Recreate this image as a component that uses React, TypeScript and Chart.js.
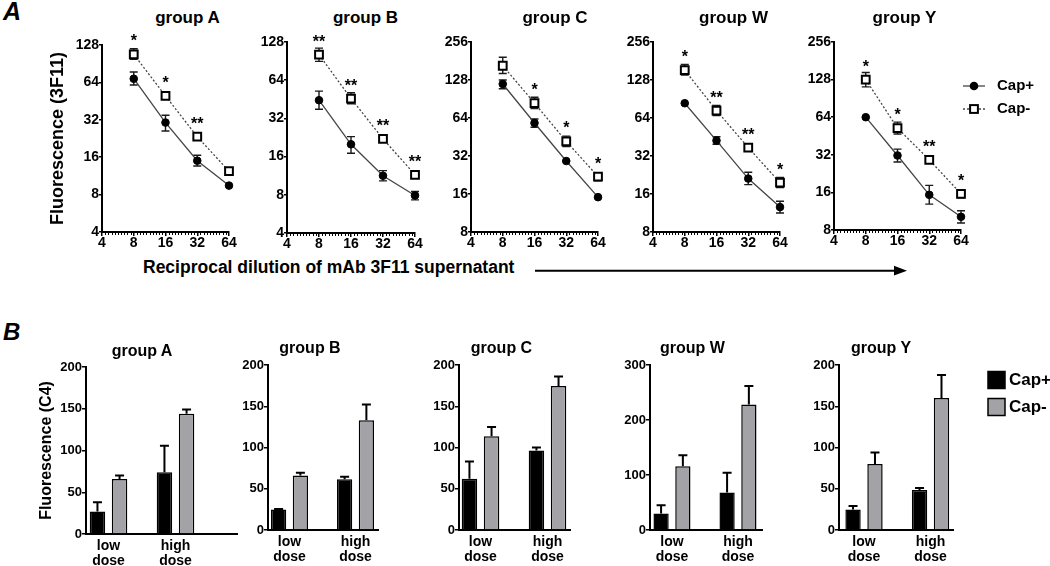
import React, { useEffect, useRef } from 'react';
import { Chart, registerables } from 'chart.js';

Chart.register(...registerables);

const FONT = '"Liberation Sans", Arial, Helvetica, sans-serif';
Chart.defaults.font.family = FONT;
Chart.defaults.color = '#000';

// ---------------- Panel A: 3F11 titration (log2 axes) ----------------
const dilutions = [8, 16, 32, 64];
const xTickValues = [4, 8, 16, 32, 64];
const yTickValuesAB = [4, 8, 16, 32, 64, 128];
const yTickValuesCWY = [8, 16, 32, 64, 128, 256];
const groupNames = ['group A', 'group B', 'group C', 'group W', 'group Y'];
const seriesNames = ['Cap+', 'Cap-'];

const capPlusMeanA = [68.5, 30.4, 15.0, 9.45];
const capPlusHiA = [77.5, 34.8, 16.6, null];
const capPlusLoA = [61, 26, 13.6, null];
const capMinusMeanA = [107.7, 49.8, 23.4, 12.35];
const capMinusHiA = [119.5, null, null, null];
const capMinusLoA = [98, null, null, null];
const sigA = ['*', '*', '**', ''];

const capPlusMeanB = [44.5, 20, 11.3, 7.9];
const capPlusHiB = [52.5, 23, 12.4, 8.5];
const capPlusLoB = [37.8, 17, 10.3, 7.3];
const capMinusMeanB = [101.7, 45.9, 22.1, 11.5];
const capMinusHiB = [114.5, 51, null, null];
const capMinusLoB = [90, 41.7, null, null];
const sigB = ['**', '**', '**', '**'];

const capPlusMeanC = [119, 58.4, 29.2, 15.1];
const capPlusHiC = [128, 62.9, null, null];
const capPlusLoC = [109, 54, null, null];
const capMinusMeanC = [166, 84, 41.8, 22];
const capMinusHiC = [194, 93.5, 46, 23.6];
const capMinusLoC = [144, 76, 38, 20.4];
const sigC = ['', '*', '*', '*'];

const capPlusMeanW = [83.8, 42.4, 21.2, 12.6];
const capPlusHiW = [null, 45.5, 23.8, 14];
const capPlusLoW = [null, 39.6, 19, 11.3];
const capMinusMeanW = [153, 73.3, 37.3, 19.7];
const capMinusHiW = [170, 80.5, 39.5, 21.6];
const capMinusLoW = [140, 67, 35, 18];
const sigW = ['*', '**', '**', '*'];

const capPlusMeanY = [64, 31.6, 15.3, 10.2];
const capPlusHiY = [null, 35.5, 18.2, 11.4];
const capPlusLoY = [null, 28, 12.9, 9.1];
const capMinusMeanY = [128, 52.3, 29.2, 15.6];
const capMinusHiY = [146, 58.4, null, 16.8];
const capMinusLoY = [112, 47, null, 14.5];
const sigY = ['*', '*', '**', '*'];

const topCapPlusMean = [capPlusMeanA, capPlusMeanB, capPlusMeanC, capPlusMeanW, capPlusMeanY];
const topCapPlusHi = [capPlusHiA, capPlusHiB, capPlusHiC, capPlusHiW, capPlusHiY];
const topCapPlusLo = [capPlusLoA, capPlusLoB, capPlusLoC, capPlusLoW, capPlusLoY];
const topCapMinusMean = [capMinusMeanA, capMinusMeanB, capMinusMeanC, capMinusMeanW, capMinusMeanY];
const topCapMinusHi = [capMinusHiA, capMinusHiB, capMinusHiC, capMinusHiW, capMinusHiY];
const topCapMinusLo = [capMinusLoA, capMinusLoB, capMinusLoC, capMinusLoW, capMinusLoY];
const topSig = [sigA, sigB, sigC, sigW, sigY];

// ---------------- Panel B: C4 fluorescence (bars, mean + SEM) ----------------
const doseCategories = ['low dose', 'high dose'];
const c4CapPlusA = [27, 74];
const c4CapPlusErrA = [11, 31.6];
const c4CapMinusA = [66, 144];
const c4CapMinusErrA = [4, 5];
const c4CapPlusB = [25, 61.4];
const c4CapPlusErrB = [0.5, 3.2];
const c4CapMinusB = [66, 133];
const c4CapMinusErrB = [3.5, 19];
const c4CapPlusC = [62, 96.5];
const c4CapPlusErrC = [21, 3.5];
const c4CapMinusC = [113.5, 174.5];
const c4CapMinusErrC = [11.5, 11.5];
const c4CapPlusW = [30, 68];
const c4CapPlusErrW = [15, 36];
const c4CapMinusW = [116, 228];
const c4CapMinusErrW = [20, 34];
const c4CapPlusY = [25, 48.5];
const c4CapPlusErrY = [4, 2.5];
const c4CapMinusY = [80, 160];
const c4CapMinusErrY = [14, 28];
const c4AxisMax = [200, 200, 200, 300, 200];
const c4AxisStep = [50, 50, 50, 100, 50];

const botCapPlus = [c4CapPlusA, c4CapPlusB, c4CapPlusC, c4CapPlusW, c4CapPlusY];
const botCapPlusErr = [c4CapPlusErrA, c4CapPlusErrB, c4CapPlusErrC, c4CapPlusErrW, c4CapPlusErrY];
const botCapMinus = [c4CapMinusA, c4CapMinusB, c4CapMinusC, c4CapMinusW, c4CapMinusY];
const botCapMinusErr = [c4CapMinusErrA, c4CapMinusErrB, c4CapMinusErrC, c4CapMinusErrW, c4CapMinusErrY];

// ---------------- layout (page pixels) ----------------
const TOP_LAYOUT = [
  { L: 102, R: 229, T: 45, B: 232, titleX: 187.5 },
  { L: 287, R: 415, T: 42, B: 233, titleX: 365.5 },
  { L: 471, R: 598, T: 42, B: 232, titleX: 555 },
  { L: 653, R: 780, T: 42, B: 232, titleX: 733.5 },
  { L: 834, R: 961, T: 42, B: 230, titleX: 904.5 },
];
const BOT_LAYOUT = [
  { L: 86, R: 237, T: 367, B: 534, titleX: 142, titleBase: 356.5, xMin: 0.664, xMax: 2.918 },
  { L: 268, R: 378, T: 365, B: 530, titleX: 310, titleBase: 353.5, xMin: 0.674, xMax: 2.341 },
  { L: 459, R: 570, T: 365, B: 530, titleX: 501.5, titleBase: 353.5, xMin: 0.679, xMax: 2.336 },
  { L: 650, R: 762, T: 365, B: 530, titleX: 692.5, titleBase: 353.5, xMin: 0.667, xMax: 2.364 },
  { L: 839, R: 953, T: 365, B: 530, titleX: 881, titleBase: 353.5, xMin: 0.624, xMax: 2.338 },
];
const MINOR_PER_OCTAVE = 10;
const GRAY = '#a2a2a7';
const LINE_GRAY = '#454545';

// ---------------- plugins ----------------
const lineErrorBars = {
  id: 'lineErrorBars',
  beforeDatasetsDraw(chart: any) {
    const { ctx } = chart;
    const ys = chart.scales.y;
    chart.data.datasets.forEach((ds: any, di: number) => {
      const meta = chart.getDatasetMeta(di);
      ctx.save();
      ctx.strokeStyle = '#1a1a1a';
      ctx.lineWidth = 1.4;
      meta.data.forEach((pt: any, k: number) => {
        const hi = ds.errHi[k];
        const lo = ds.errLo[k];
        if (hi == null || lo == null) return;
        const yHi = ys.getPixelForValue(hi);
        const yLo = ys.getPixelForValue(lo);
        ctx.beginPath();
        ctx.moveTo(pt.x, yHi);
        ctx.lineTo(pt.x, yLo);
        ctx.moveTo(pt.x - 4, yHi);
        ctx.lineTo(pt.x + 4, yHi);
        ctx.moveTo(pt.x - 4, yLo);
        ctx.lineTo(pt.x + 4, yLo);
        ctx.stroke();
      });
      ctx.restore();
    });
  },
};

const minorTicks = {
  id: 'minorTicks',
  afterDraw(chart: any) {
    const { ctx } = chart;
    const xs = chart.scales.x;
    const y0 = chart.chartArea.bottom;
    const lo = Math.log2(xs.min);
    const hi = Math.log2(xs.max);
    ctx.save();
    ctx.strokeStyle = '#000';
    ctx.lineWidth = 1;
    ctx.beginPath();
    for (let e = lo; e < hi; e++) {
      for (let k = 1; k < MINOR_PER_OCTAVE; k++) {
        const x = Math.round(xs.getPixelForValue(Math.pow(2, e + k / MINOR_PER_OCTAVE))) + 0.5;
        ctx.moveTo(x, y0);
        ctx.lineTo(x, y0 + 3);
      }
    }
    ctx.stroke();
    ctx.restore();
  },
};

const sigMarks = {
  id: 'sigMarks',
  afterDatasetsDraw(chart: any) {
    const { ctx } = chart;
    const ds = chart.data.datasets[1];
    const meta = chart.getDatasetMeta(1);
    ctx.save();
    ctx.font = `bold 16px ${FONT}`;
    ctx.textAlign = 'center';
    ctx.textBaseline = 'alphabetic';
    ctx.fillStyle = '#000';
    meta.data.forEach((pt: any, k: number) => {
      const s = ds.sig[k];
      if (s) ctx.fillText(s, pt.x, pt.y - 8);
    });
    ctx.restore();
  },
};

const lineLegend = {
  id: 'lineLegend',
  afterDraw(chart: any, _args: any, o: any) {
    const { ctx } = chart;
    const ds = chart.data.datasets;
    ctx.save();
    o.rows.forEach((y: number, i: number) => {
      ctx.beginPath();
      ctx.strokeStyle = LINE_GRAY;
      ctx.lineWidth = 1.3;
      ctx.setLineDash(i === 1 ? [2, 2] : []);
      ctx.moveTo(o.x0, y);
      ctx.lineTo(o.x1, y);
      ctx.stroke();
      ctx.setLineDash([]);
      const cx = (o.x0 + o.x1) / 2;
      if (i === 0) {
        ctx.beginPath();
        ctx.fillStyle = '#000';
        ctx.arc(cx, y, 4.3, 0, Math.PI * 2);
        ctx.fill();
      } else {
        ctx.fillStyle = '#fff';
        ctx.strokeStyle = '#000';
        ctx.lineWidth = 2;
        ctx.fillRect(cx - 3.9, y - 3.9, 7.8, 7.8);
        ctx.strokeRect(cx - 3.9, y - 3.9, 7.8, 7.8);
      }
      ctx.fillStyle = '#000';
      ctx.font = `bold 15px ${FONT}`;
      ctx.textAlign = 'left';
      ctx.textBaseline = 'middle';
      ctx.fillText(ds[i].label, o.tx, y);
    });
    ctx.restore();
  },
};

const barErrorBars = {
  id: 'barErrorBars',
  afterDatasetsDraw(chart: any) {
    const { ctx } = chart;
    const ys = chart.scales.y;
    chart.data.datasets.forEach((ds: any, di: number) => {
      const meta = chart.getDatasetMeta(di);
      ctx.save();
      ctx.strokeStyle = '#000';
      ctx.lineWidth = 2;
      meta.data.forEach((bar: any, k: number) => {
        const e = ds.err[k];
        if (!e) return;
        const yTop = ys.getPixelForValue(ds.data[k].y + e);
        ctx.beginPath();
        ctx.moveTo(bar.x, bar.y);
        ctx.lineTo(bar.x, yTop);
        ctx.moveTo(bar.x - 4.5, yTop);
        ctx.lineTo(bar.x + 4.5, yTop);
        ctx.stroke();
      });
      ctx.restore();
    });
  },
};

const boxLegend = {
  id: 'boxLegend',
  afterDraw(chart: any, _args: any, o: any) {
    const { ctx } = chart;
    const ds = chart.data.datasets;
    ctx.save();
    o.rows.forEach((y: number, i: number) => {
      ctx.fillStyle = ds[i].backgroundColor;
      ctx.strokeStyle = '#000';
      ctx.lineWidth = 1.5;
      ctx.fillRect(o.x, y - 8.5, 17, 17);
      ctx.strokeRect(o.x, y - 8.5, 17, 17);
      ctx.fillStyle = '#000';
      ctx.font = `bold 17px ${FONT}`;
      ctx.textAlign = 'left';
      ctx.textBaseline = 'middle';
      ctx.fillText(ds[i].label, o.tx, y);
    });
    ctx.restore();
  },
};

// ---------------- configs ----------------
function axisGrid(tickLength: number) {
  return { display: true, drawOnChartArea: false, drawTicks: true, tickLength, color: '#000', lineWidth: 1.5 };
}
const axisBorder = { display: true, color: '#000', width: 2 };

function topConfig(i: number, ox: number, oy: number, yW: number, xH: number, padTop: number, padRight: number) {
  const lay = TOP_LAYOUT[i];
  const yTicks = i < 2 ? yTickValuesAB : yTickValuesCWY;
  const tickFont = { family: FONT, size: 14, weight: 'bold', lineHeight: 1 };
  const plugins: any[] = [lineErrorBars, minorTicks, sigMarks];
  if (i === 4) plugins.push(lineLegend);
  return {
    type: 'line',
    data: {
      datasets: [
        {
          label: seriesNames[0],
          data: dilutions.map((d, k) => ({ x: d, y: topCapPlusMean[i][k] })),
          errHi: topCapPlusHi[i],
          errLo: topCapPlusLo[i],
          borderColor: LINE_GRAY,
          borderWidth: 1.3,
          pointStyle: 'circle',
          pointRadius: 3.8,
          pointBackgroundColor: '#000',
          pointBorderColor: '#000',
          pointBorderWidth: 1,
          clip: false,
        },
        {
          label: seriesNames[1],
          data: dilutions.map((d, k) => ({ x: d, y: topCapMinusMean[i][k] })),
          errHi: topCapMinusHi[i],
          errLo: topCapMinusLo[i],
          sig: topSig[i],
          borderColor: LINE_GRAY,
          borderWidth: 1.3,
          borderDash: [2, 2],
          pointStyle: 'rect',
          pointRadius: 5.5,
          pointBackgroundColor: '#fff',
          pointBorderColor: '#000',
          pointBorderWidth: 2,
          clip: false,
        },
      ],
    },
    options: {
      responsive: false,
      animation: false,
      events: [],
      layout: { padding: { left: 0, top: padTop, right: padRight, bottom: 0 } },
      plugins: {
        legend: { display: false },
        tooltip: { enabled: false },
        lineLegend: { rows: [86 - oy, 109 - oy], x0: 963 - ox, x1: 985 - ox, tx: 997 - ox },
      },
      scales: {
        x: {
          type: 'logarithmic',
          min: xTickValues[0],
          max: xTickValues[xTickValues.length - 1],
          afterBuildTicks: (s: any) => {
            s.ticks = xTickValues.map((v) => ({ value: v }));
          },
          afterFit: (s: any) => {
            s.height = xH;
          },
          ticks: { callback: (v: any) => String(v), font: tickFont, color: '#000', padding: 0, maxRotation: 0, autoSkip: false },
          grid: axisGrid(4),
          border: axisBorder,
        },
        y: {
          type: 'logarithmic',
          min: yTicks[0],
          max: yTicks[yTicks.length - 1],
          afterBuildTicks: (s: any) => {
            s.ticks = yTicks.map((v) => ({ value: v }));
          },
          afterFit: (s: any) => {
            s.width = yW;
          },
          ticks: { callback: (v: any) => String(v), font: tickFont, color: '#000', padding: 0, autoSkip: false },
          grid: axisGrid(3),
          border: axisBorder,
          title: {
            display: i === 0,
            text: 'Fluorescence (3F11)',
            color: '#000',
            font: { family: FONT, size: 18, weight: 'bold' },
            padding: { top: 7.2, bottom: 0 },
          },
        },
      },
    },
    plugins,
  };
}

function botConfig(i: number, ox: number, oy: number, yW: number, xH: number, padTop: number, padRight: number) {
  const lay = BOT_LAYOUT[i];
  const plugins: any[] = [barErrorBars];
  if (i === 4) plugins.push(boxLegend);
  const common = { categoryPercentage: 0.66, barPercentage: 0.7, borderColor: '#000', borderWidth: 1.5 };
  return {
    type: 'bar',
    data: {
      datasets: [
        {
          ...common,
          label: seriesNames[0],
          data: botCapPlus[i].map((v, k) => ({ x: k + 1, y: v })),
          err: botCapPlusErr[i],
          backgroundColor: '#000',
        },
        {
          ...common,
          label: seriesNames[1],
          data: botCapMinus[i].map((v, k) => ({ x: k + 1, y: v })),
          err: botCapMinusErr[i],
          backgroundColor: GRAY,
        },
      ],
    },
    options: {
      responsive: false,
      animation: false,
      events: [],
      layout: { padding: { left: 0, top: padTop, right: padRight, bottom: 0 } },
      plugins: {
        legend: { display: false },
        tooltip: { enabled: false },
        boxLegend: { rows: [380 - oy, 407 - oy], x: 988 - ox, tx: 1009 - ox },
      },
      scales: {
        x: {
          type: 'linear',
          min: lay.xMin,
          max: lay.xMax,
          offset: false,
          afterBuildTicks: (s: any) => {
            s.ticks = doseCategories.map((_, k) => ({ value: k + 1 }));
          },
          afterFit: (s: any) => {
            s.height = xH;
          },
          ticks: {
            callback: (v: any) => doseCategories[Math.round(v) - 1].split(' '),
            font: { family: FONT, size: 14, weight: 'bold', lineHeight: '15px' },
            color: '#000',
            padding: 4.5,
            maxRotation: 0,
            autoSkip: false,
          },
          grid: { display: false, drawTicks: false, offset: false },
          border: axisBorder,
        },
        y: {
          type: 'linear',
          min: 0,
          max: c4AxisMax[i],
          afterFit: (s: any) => {
            s.width = yW;
          },
          ticks: { stepSize: c4AxisStep[i], font: { family: FONT, size: 13, weight: 'bold' }, color: '#000', padding: 0 },
          grid: axisGrid(4),
          border: axisBorder,
          title: {
            display: i === 0,
            text: 'Fluorescence (C4)',
            color: '#000',
            font: { family: FONT, size: 16, weight: 'bold' },
            padding: { top: 7.4, bottom: 0 },
          },
        },
      },
    },
    plugins,
  };
}

// ---------------- components ----------------
function ChartCanvas(props: any) {
  const { L, T, R, B, yW, padTop, padRight, xH, make, idx } = props;
  const ref = useRef<HTMLCanvasElement>(null);
  const left = L - yW;
  const top = T - padTop;
  const width = R - left + padRight;
  const height = B - top + xH;
  useEffect(() => {
    const chart = new Chart(ref.current as HTMLCanvasElement, make(idx, left, top, yW, xH, padTop, padRight) as any);
    return () => chart.destroy();
  }, []);
  return (
    <canvas
      ref={ref}
      width={width}
      height={height}
      style={{ position: 'absolute', left, top, width, height, display: 'block' }}
    />
  );
}

function Text(props: any) {
  const { x, base, size, children, center, italic } = props;
  return (
    <div
      style={{
        position: 'absolute',
        left: x,
        top: base - 0.8465 * size,
        fontSize: size,
        lineHeight: `${size}px`,
        fontWeight: 'bold',
        fontStyle: italic ? 'italic' : 'normal',
        whiteSpace: 'nowrap',
        transform: center ? 'translateX(-50%)' : undefined,
        color: '#000',
      }}
    >
      {children}
    </div>
  );
}

export default function App() {
  return (
    <div
      style={{
        position: 'fixed',
        left: 0,
        top: 0,
        width: 1050,
        height: 566,
        overflow: 'hidden',
        background: '#fff',
        fontFamily: FONT,
      }}
    >
      {TOP_LAYOUT.map((lay, i) => (
        <ChartCanvas
          key={'top' + i}
          idx={i}
          L={lay.L}
          R={lay.R}
          T={lay.T}
          B={lay.B}
          yW={i === 0 ? 62 : 45}
          padTop={12}
          padRight={i === 4 ? 1050 - lay.R : 12}
          xH={24}
          make={topConfig}
        />
      ))}
      {BOT_LAYOUT.map((lay, i) => (
        <ChartCanvas
          key={'bot' + i}
          idx={i}
          L={lay.L}
          R={lay.R}
          T={lay.T}
          B={lay.B}
          yW={i === 0 ? 56 : 45}
          padTop={10}
          padRight={i === 4 ? 1050 - lay.R : 12}
          xH={40}
          make={botConfig}
        />
      ))}
      {TOP_LAYOUT.map((lay, i) => (
        <Text key={'tt' + i} x={lay.titleX} base={23.5} size={17} center>
          {groupNames[i]}
        </Text>
      ))}
      {BOT_LAYOUT.map((lay, i) => (
        <Text key={'bt' + i} x={lay.titleX} base={lay.titleBase} size={16} center>
          {groupNames[i]}
        </Text>
      ))}
      <Text x={3} base={20} size={25} italic>
        A
      </Text>
      <Text x={3} base={340} size={24} italic>
        B
      </Text>
      <Text x={143} base={274} size={17.5}>
        Reciprocal dilution of mAb 3F11 supernatant
      </Text>
      <svg
        width={1050}
        height={566}
        style={{ position: 'absolute', left: 0, top: 0, pointerEvents: 'none' }}
      >
        <line x1={535} y1={270.7} x2={897} y2={270.7} stroke="#000" strokeWidth={2} />
        <polygon points="894,265.8 907,270.7 894,275.6" fill="#000" />
      </svg>
    </div>
  );
}
